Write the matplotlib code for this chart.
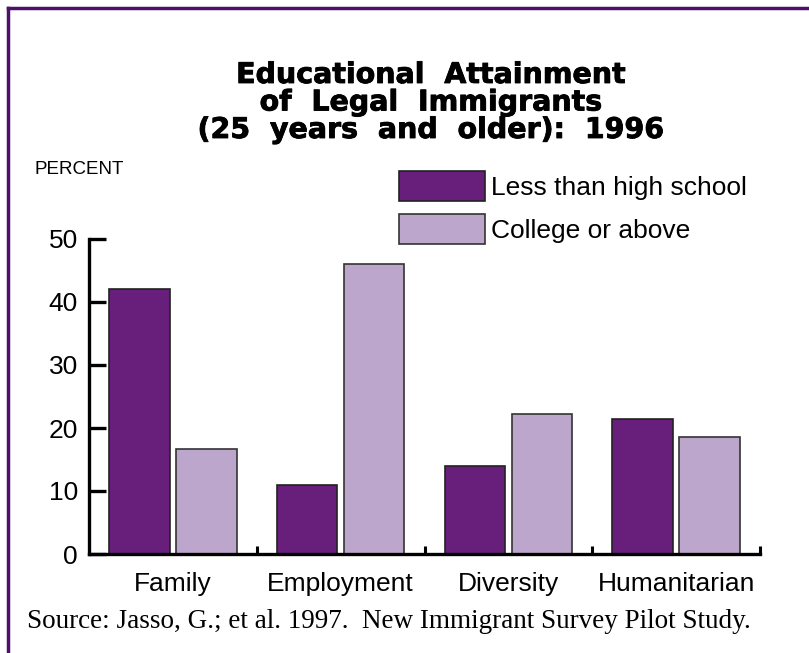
import matplotlib.pyplot as plt
import matplotlib.patheffects as pe
import numpy as np
from matplotlib.lines import Line2D

# data
categories = ["Family", "Employment", "Diversity", "Humanitarian"]
less_than_hs = [42.0, 11.0, 13.9, 21.4]
college_plus = [16.7, 46.0, 22.2, 18.6]
series_names = ["Less than high school", "College or above"]
y_ticks = [0, 10, 20, 30, 40, 50]

dark_purple = "#681F7C"
light_purple = "#BDA6CB"

plt.rcParams["font.family"] = ["Liberation Sans", "DejaVu Sans"]

fig = plt.figure(figsize=(8.09, 6.53), dpi=100)
ax = fig.add_axes([89 / 809, 99 / 653, 671 / 809, 315 / 653])

x = np.arange(len(categories))
w = 0.36
ax.bar(x - 0.2, less_than_hs, w, color=dark_purple, edgecolor="#222222",
       linewidth=1.2, label=series_names[0])
ax.bar(x + 0.2, college_plus, w, color=light_purple, edgecolor="#333333",
       linewidth=1.2, label=series_names[1])

ax.set_xlim(-0.5, 3.5)
ax.set_ylim(0, 50)
ax.set_yticks(y_ticks)
ax.tick_params(axis="y", direction="in", length=12, width=2.4, labelsize=19, pad=8)
ax.set_xticks(x)
ax.set_xticklabels(categories)
ax.tick_params(axis="x", which="major", length=0, labelsize=19, pad=13)
ax.set_xticks([0.5, 1.5, 2.5, 3.5], minor=True)
ax.tick_params(axis="x", which="minor", direction="in", length=6, width=2.2)

for s in ["top", "right"]:
    ax.spines[s].set_visible(False)
for s in ["left", "bottom"]:
    ax.spines[s].set_linewidth(2.4)

# title (heavy face, slightly thickened with a stroke)
title_lines = ["Educational  Attainment", "of  Legal  Immigrants", "(25  years  and  older):  1996"]
for i, line in enumerate(title_lines):
    fig.text(431 / 809, 1 - (75 + 27.5 * i) / 653, line, ha="center", va="center",
             fontsize=20.5, fontweight="bold", family=["DejaVu Sans"],
             path_effects=[pe.withStroke(linewidth=0.6, foreground="black")])

fig.text(35 / 809, 1 - 170 / 653, "PERCENT", ha="left", va="center", fontsize=13.5,
         family=["Liberation Sans Narrow", "Liberation Sans"])

fig.legend(loc="upper left", bbox_to_anchor=(399 / 809, 1 - 171 / 653), frameon=False,
           fontsize=19, handlelength=3.25, handleheight=1.38, handletextpad=0.25,
           labelspacing=0.48, borderpad=0, borderaxespad=0)

fig.text(27 / 809, 1 - 621 / 653,
         "Source: Jasso, G.; et al. 1997.  New Immigrant Survey Pilot Study.",
         ha="left", va="center", fontsize=19.5, family=["Liberation Serif"])

# frame on top and left
fig.add_artist(Line2D([8 / 809, 8 / 809], [0, 1 - 8 / 653], transform=fig.transFigure,
                      color="#4E0F6E", linewidth=2.5))
fig.add_artist(Line2D([8 / 809, 1], [1 - 8 / 653, 1 - 8 / 653], transform=fig.transFigure,
                      color="#4E0F6E", linewidth=2.5))

fig.savefig("out.png", dpi=100)
